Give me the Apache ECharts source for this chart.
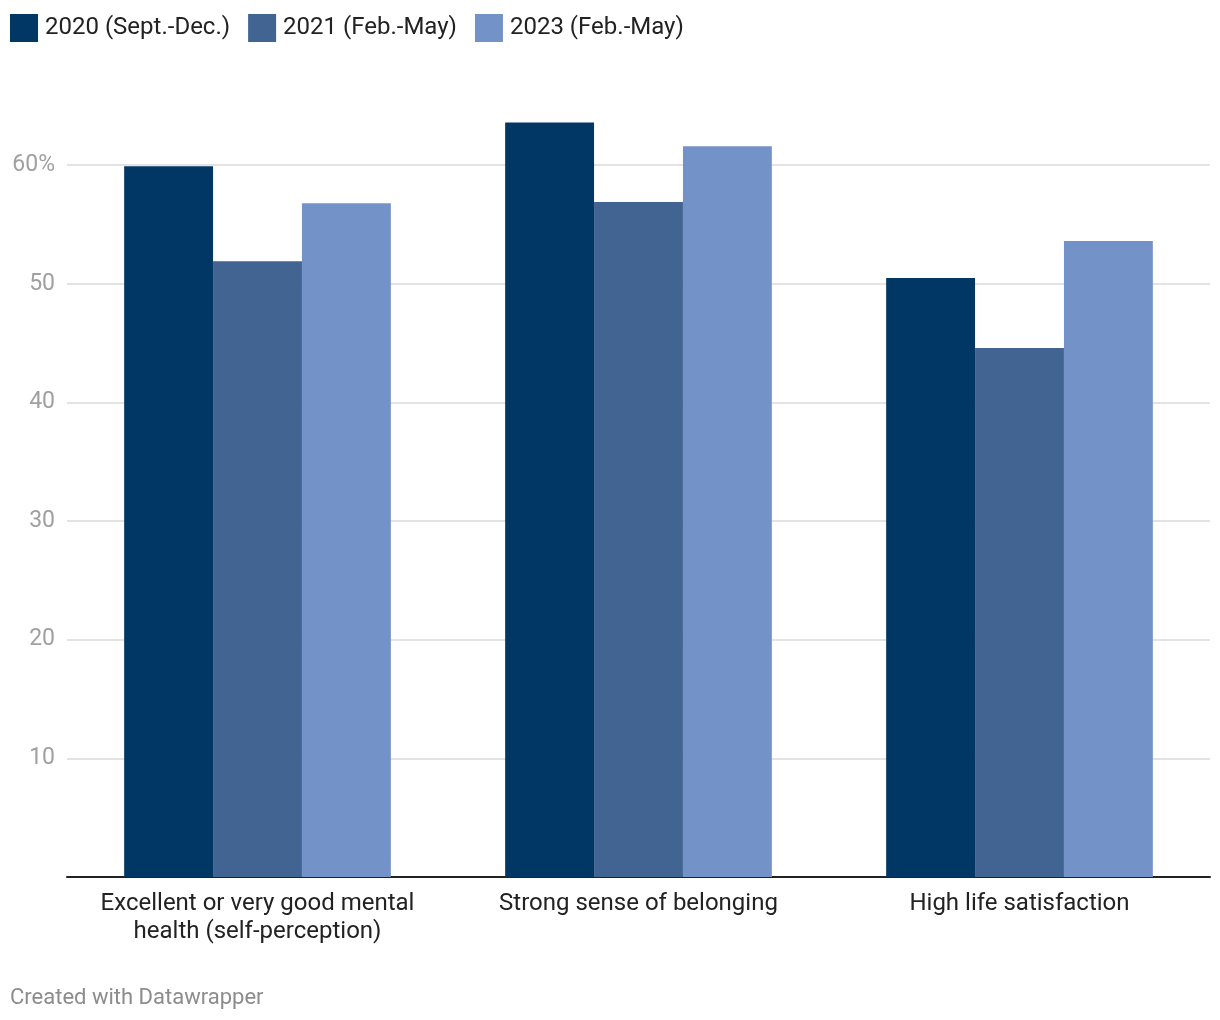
<!DOCTYPE html>
<html><head><meta charset="utf-8">
<script src="https://cdn.jsdelivr.net/npm/echarts@6/dist/echarts.min.js"></script>
<style>html,body{margin:0;padding:0;background:#fff}#c{width:1220px;height:1020px}</style>
</head><body><div id="c"></div>
<script>
const categories = ["Excellent or very good mental\nhealth (self-perception)", "Strong sense of belonging", "High life satisfaction"];
const seriesNames = ["2020 (Sept.-Dec.)", "2021 (Feb.-May)", "2023 (Feb.-May)"];
const values2020 = [59.9, 63.6, 50.5];
const values2021 = [51.9, 56.9, 44.6];
const values2023 = [56.8, 61.6, 53.6];
const colors = ["#003764", "#416493", "#7393c8"];
const allValues = [values2020, values2021, values2023];

const chart = echarts.init(document.getElementById('c'), null, {renderer: 'canvas'});
chart.setOption({
  animation: false,
  backgroundColor: '#fff',
  textStyle: {fontFamily: 'Roboto'},
  legend: {
    left: 10, top: 14, padding: 0,
    itemWidth: 28, itemHeight: 28, itemGap: 18,
    icon: 'rect',
    textStyle: {fontSize: 24, color: '#222', fontFamily: 'Roboto', padding: [0, 0, 0, 2]},
    data: seriesNames
  },
  graphic: [{
    type: 'text', left: 10, top: 987,
    style: {text: 'Created with Datawrapper', fontSize: 22, fill: '#8c8c8c', fontFamily: 'Roboto'}
  }],
  grid: {left: 67, right: 10, top: 94, bottom: 143, containLabel: false},
  xAxis: {
    type: 'category', data: categories,
    axisLine: {lineStyle: {color: '#222', width: 2}},
    axisTick: {show: false},
    axisLabel: {fontSize: 24, color: '#222', lineHeight: 28, margin: 13, interval: 0, fontFamily: 'Roboto'}
  },
  yAxis: {
    type: 'value', min: 0, max: 66, interval: 10,
    axisLine: {show: false}, axisTick: {show: false},
    splitLine: {show: true, showMinLine: false, showMaxLine: false, lineStyle: {color: '#e3e3e3', width: 2}},
    axisLabel: {
      fontSize: 23, color: '#a0a0a0', margin: 12, showMaxLabel: false, fontFamily: 'Roboto',
      formatter: v => v === 0 ? '' : (v === 60 ? '60%' : String(v))
    }
  },
  series: allValues.map((vals, i) => ({
    name: seriesNames[i], type: 'bar', data: vals,
    barGap: '0%', barCategoryGap: '30%',
    itemStyle: {color: colors[i]}
  }))
});
</script></body></html>
